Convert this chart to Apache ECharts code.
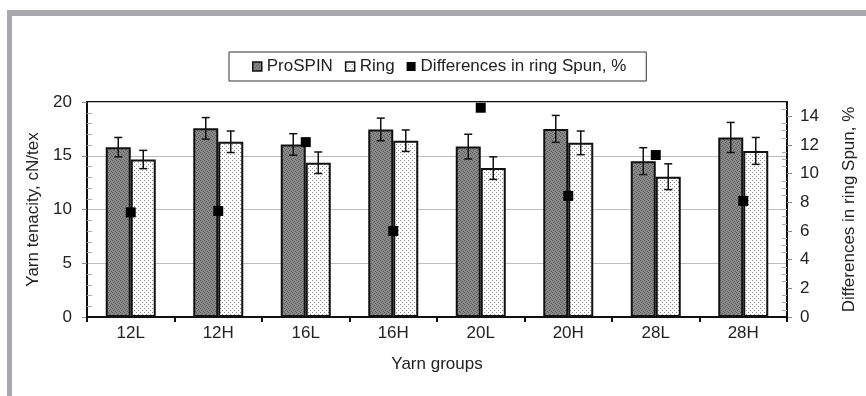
<!DOCTYPE html>
<html>
<head>
<meta charset="utf-8">
<script src="https://cdn.jsdelivr.net/npm/echarts@6/dist/echarts.min.js"></script>
<style>
html,body{margin:0;padding:0;background:#fff;}
#chart{width:866px;height:396px;}
</style>
</head>
<body>
<div id="chart"></div>
<script>
var categories = ['12L','12H','16L','16H','20L','20H','28L','28H'];
var proSpin = [15.8, 17.55, 16.05, 17.45, 15.85, 17.5, 14.5, 16.7];
var proErr  = [0.9, 1.0, 1.0, 1.05, 1.15, 1.25, 1.25, 1.4];
var ring    = [14.65, 16.3, 14.35, 16.4, 13.85, 16.2, 13.05, 15.45];
var ringErr = [0.85, 1.0, 1.0, 1.0, 1.05, 1.1, 1.2, 1.25];
var diffs   = [7.3, 7.4, 12.2, 6.0, 14.6, 8.45, 11.3, 8.1];
var leftTicks = [0, 5, 10, 15, 20];
var rightTicks = [0, 2, 4, 6, 8, 10, 12, 14];

function makePattern(size, bg, dots, dotColor) {
  var c = document.createElement('canvas');
  c.width = size; c.height = size;
  var ctx = c.getContext('2d');
  ctx.fillStyle = bg; ctx.fillRect(0, 0, size, size);
  ctx.fillStyle = dotColor;
  dots.forEach(function (d) { ctx.fillRect(d[0], d[1], 1, 1); });
  return c;
}
var proPattern = makePattern(4, '#8a8a8a', [[0,0],[2,1],[1,2],[3,3]], '#5a5a5a');
var ringPattern = makePattern(4, '#ffffff', [[0,0],[2,2]], '#8a8a8a');

var BAR_W = 25;
function errSeries(name, vals, errs, dir) {
  return {
    type: 'custom',
    name: name + ' err',
    yAxisIndex: 0,
    z: 5,
    silent: true,
    data: vals.map(function (v, i) { return [i, v - errs[i], v + errs[i]]; }),
    renderItem: function (params, api) {
      var lo = api.coord([api.value(0), api.value(1)]);
      var hi = api.coord([api.value(0), api.value(2)]);
      var x = lo[0] + dir * BAR_W / 2;
      var cap = 4;
      var st = { stroke: '#111', lineWidth: 1.5 };
      return {
        type: 'group',
        children: [
          { type: 'line', shape: { x1: x, y1: lo[1], x2: x, y2: hi[1] }, style: st },
          { type: 'line', shape: { x1: x - cap, y1: lo[1], x2: x + cap, y2: lo[1] }, style: st },
          { type: 'line', shape: { x1: x - cap, y1: hi[1], x2: x + cap, y2: hi[1] }, style: st }
        ]
      };
    }
  };
}

var chart = echarts.init(document.getElementById('chart'), null, { renderer: 'canvas' });
var txt = '#222';
var font = 'Liberation Sans';
var FS = 17;
chart.setOption({
  animation: false,
  backgroundColor: '#fff',
  textStyle: { fontFamily: font },
  graphic: [
    { type: 'rect', shape: { x: 7, y: 10, width: 859, height: 6 }, style: { fill: '#a9a9ad' } },
    { type: 'rect', shape: { x: 7, y: 10, width: 5, height: 386 }, style: { fill: '#a9a9ad' } }
  ],
  legend: {
    left: 229,
    top: 52,
    data: [
      { name: 'ProSPIN', icon: 'rect', itemStyle: { borderColor: '#111', borderWidth: 1.5 } },
      { name: 'Ring', icon: 'rect', itemStyle: { borderColor: '#111', borderWidth: 1.5 } },
      { name: 'Differences in ring Spun, %', icon: 'rect' }
    ],
    borderColor: '#333',
    borderWidth: 1,
    padding: [6, 20, 6, 23],
    itemWidth: 9,
    itemHeight: 9,
    itemGap: 12,
    textStyle: { fontFamily: font, fontSize: FS, color: txt }
  },
  grid: {
    left: 87, right: 76, top: 102, bottom: 79,
    show: true, borderColor: '#111', borderWidth: 2
  },
  xAxis: {
    type: 'category',
    data: categories,
    name: 'Yarn groups',
    nameLocation: 'middle',
    nameGap: 39,
    nameTextStyle: { fontFamily: font, fontSize: FS, color: txt },
    axisLine: { lineStyle: { color: '#111', width: 2 } },
    axisTick: { show: true, length: 5, lineStyle: { color: '#111', width: 2 } },
    axisLabel: { fontFamily: font, fontSize: FS, color: txt, margin: 8 }
  },
  yAxis: [
    {
      type: 'value', min: leftTicks[0], max: leftTicks[leftTicks.length - 1], interval: 5,
      position: 'left',
      name: 'Yarn tenacity, cN/tex',
      nameLocation: 'middle',
      nameGap: 44,
      nameTextStyle: { fontFamily: font, fontSize: FS, color: txt },
      axisLine: { show: true, lineStyle: { color: '#111', width: 2 } },
      axisTick: { show: true, length: 5, lineStyle: { color: '#888', width: 1 } },
      axisLabel: { fontFamily: font, fontSize: FS, color: txt, margin: 15 },
      splitLine: { show: true, lineStyle: { color: '#bdbdbd', width: 1 } }
    },
    {
      type: 'value', min: 0, max: 15, interval: 2,
      position: 'right',
      name: 'Differences in ring Spun, %',
      nameLocation: 'middle',
      nameGap: 54,
      nameRotate: 90,
      nameTextStyle: { fontFamily: font, fontSize: FS, color: txt },
      axisLine: { show: true, lineStyle: { color: '#111', width: 2 } },
      axisTick: { show: true, length: 5, lineStyle: { color: '#888', width: 1 } },
      axisLabel: { fontFamily: font, fontSize: FS, color: txt, margin: 13, showMaxLabel: false,
        formatter: function (v) { return rightTicks.indexOf(v) >= 0 ? String(v) : ''; } },
      splitLine: { show: false }
    },
    {
      type: 'value', min: 0, max: 20, interval: 5, position: 'left',
      axisLine: { show: false }, axisLabel: { show: false }, splitLine: { show: false },
      axisTick: { show: false, inside: true },
      minorTick: { show: true, splitNumber: 5, length: 5, lineStyle: { color: '#aaa', width: 1 } }
    },
    {
      type: 'value', min: 0, max: 15, interval: 2, position: 'right',
      axisLine: { show: false }, axisLabel: { show: false }, splitLine: { show: false },
      axisTick: { show: false, inside: true },
      minorTick: { show: true, splitNumber: 4, length: 5, lineStyle: { color: '#aaa', width: 1 } }
    }
  ],
  series: [
    {
      name: 'ProSPIN', type: 'bar', yAxisIndex: 0, data: proSpin,
      barWidth: BAR_W, barGap: '0%',
      itemStyle: { color: { image: proPattern, repeat: 'repeat' }, borderColor: '#111', borderWidth: 2 }
    },
    {
      name: 'Ring', type: 'bar', yAxisIndex: 0, data: ring,
      barWidth: BAR_W, barGap: '0%',
      itemStyle: { color: { image: ringPattern, repeat: 'repeat' }, borderColor: '#111', borderWidth: 2 }
    },
    errSeries('ProSPIN', proSpin, proErr, -1),
    errSeries('Ring', ring, ringErr, 1),
    {
      name: 'Differences in ring Spun, %', type: 'scatter', yAxisIndex: 1, data: diffs,
      symbol: 'rect', symbolSize: 10, z: 6,
      itemStyle: { color: '#000', opacity: 1 }
    }
  ]
});
</script>
</body>
</html>
